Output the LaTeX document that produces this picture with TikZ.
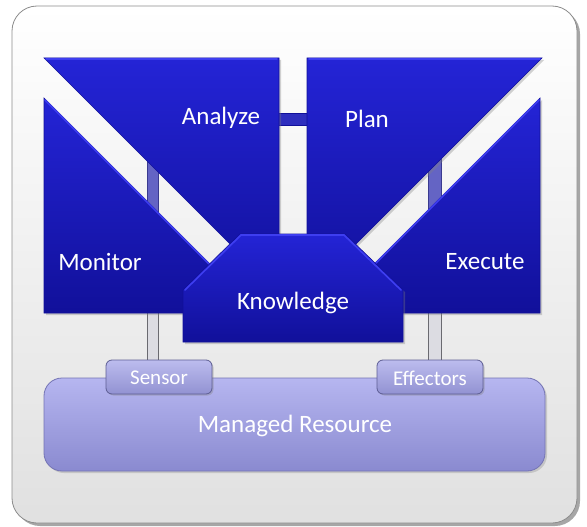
\documentclass[tikz,border=0pt]{standalone}
\usepackage{fontspec}
\setmainfont{Carlito}
\usetikzlibrary{shadows}
\definecolor{bluetop}{HTML}{2424D6}
\definecolor{bluebot}{HTML}{11109A}
\definecolor{bluehi}{HTML}{3E3EF0}
\definecolor{barblue}{HTML}{6464C4}
\definecolor{barblueD}{HTML}{3A3A90}
\definecolor{hbar}{HTML}{2E2EBE}
\definecolor{greybar}{HTML}{DCDCE2}
\definecolor{greyedge}{HTML}{6A6A70}
\definecolor{mrtop}{HTML}{B6B6F0}
\definecolor{mrbot}{HTML}{8A8AD0}
\definecolor{mredge}{HTML}{7474B4}
\definecolor{sntop}{HTML}{BCBCEE}
\definecolor{snbot}{HTML}{9292D2}
\definecolor{snedge}{HTML}{5E5E94}
\tikzset{
  bluefill/.style={top color=bluetop, bottom color=bluebot, draw=bluebot, line width=0.6pt,
    drop shadow={opacity=0.35, shadow xshift=2pt, shadow yshift=-2pt}},
  lbl/.style={text=white, font=\fontsize{25}{29}\selectfont, inner sep=0pt},
  slbl/.style={text=white, font=\fontsize{21}{25}\selectfont, inner sep=0pt},
  resbox/.style={rounded corners=18pt, top color=mrtop, bottom color=mrbot, draw=mredge, line width=0.8pt,
    minimum width=501pt, minimum height=93pt, inner sep=0pt,
    drop shadow={opacity=0.3, shadow xshift=2pt, shadow yshift=-2pt}},
  portbox/.style={rounded corners=6pt, top color=sntop, bottom color=snbot, draw=snedge, line width=0.8pt,
    minimum width=106pt, minimum height=34pt, inner sep=0pt,
    drop shadow={opacity=0.35, shadow xshift=1.5pt, shadow yshift=-1.5pt}},
  vbar/.style={fill=barblue, draw=barblueD, line width=0.6pt},
  gbar/.style={fill=greybar, draw=greyedge, line width=0.7pt},
  hibar/.style={fill=hbar, draw=bluebot, line width=0.6pt},
  hiedge/.style={draw=bluehi, line width=1.6pt, line cap=round}
}
\begin{document}
\begin{tikzpicture}[x=1pt,y=-1pt]
\useasboundingbox (0,0) rectangle (587,527);
% outer frame
\fill[black!35, rounded corners=25pt] (15,9) rectangle (580,526);
\shade[rounded corners=25pt, top color=white, bottom color=black!12, draw=black!45, line width=0.8pt]
  (12,6) rectangle (577,523);

% grey connectors to sensor/effectors
\path[gbar] (147,312) rectangle (158,362);
\path[gbar] (428,312) rectangle (441,362);
% purple connectors between triangles
\path[vbar] (147,140) rectangle (158,222);
\path[vbar] (428,140) rectangle (441,222);
% Analyze - Plan connector
\path[hibar] (275,113) rectangle (311,125);

% triangles
\path[bluefill] (44,58) -- (279,58) -- (279,293) -- cycle;
\path[bluefill] (307,58) -- (542,58) -- (307,293) -- cycle;
\path[bluefill] (44,98) -- (259,313) -- (44,313) -- cycle;
\path[bluefill] (540,98) -- (540,313) -- (325,313) -- cycle;
\draw[hiedge] (45,100) -- (257,312);
\draw[hiedge] (539,100) -- (327,312);
\draw[hiedge] (46,59) -- (277,59);
\draw[hiedge] (309,59) -- (540,59);

% Knowledge
\path[bluefill] (183,342) -- (183,290) -- (240,234) -- (345,234) -- (403,290) -- (403,342) -- cycle;
\draw[hiedge] (185,290) -- (241,235) -- (344,235) -- (401,290);

% managed resource and ports
\node[resbox] (mr) at (294.5,424.5) {};
\node[portbox] (sensor) at (159,377) {};
\node[portbox] (effectors) at (430,377) {};

% labels
\node[lbl] (analyze) at (221,118) {Analyze};
\node[lbl] (plan) at (367,119) {Plan};
\node[lbl] (monitor) at (100,262) {Monitor};
\node[lbl] (execute) at (485,262) {Execute};
\node[lbl] (knowledge) at (293,303) {Knowledge};
\node[lbl] (mrl) at (295,426) {Managed Resource};
\node[slbl] at (159,378) {Sensor};
\node[slbl] at (430,378) {Effectors};
\end{tikzpicture}
\end{document}
